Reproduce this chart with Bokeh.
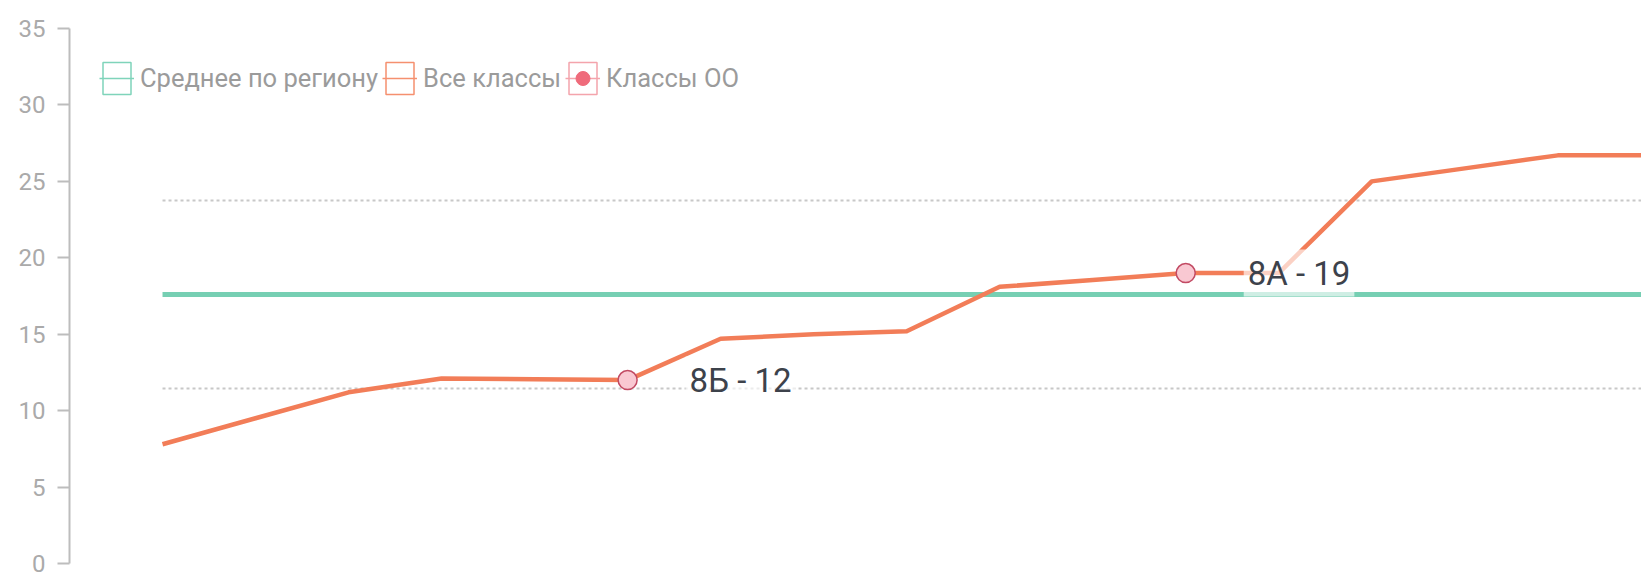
import math
from bokeh.plotting import figure
from bokeh.models import Range1d, Legend, LegendItem
from bokeh.embed import file_html
from bokeh.resources import INLINE
from bokeh.core.properties import value

# ---- data ----
class_index = list(range(17))
class_scores = [7.8, 9.5, 11.2, 12.1, 12.05, 12.0, 14.7, 15.0, 15.2, 18.1,
                18.55, 19.0, 19.0, 25.0, 25.85, 26.7, 26.7]
region_average = 17.6
band_low = 11.45
band_high = 23.75
school_classes = ["8Б", "8А"]
school_class_index = [5, 11]
school_class_scores = [12, 19]
y_ticks = [0, 5, 10, 15, 20, 25, 30, 35]
legend_labels = ["Среднее по региону", "Все классы", "Классы ОО"]

# ---- styles ----
GREEN = "#76cfb3"
GREEN_ICON = "#7fd4ba"
ORANGE = "#f27d58"
ORANGE_ICON = "#f5906f"
PINK_ICON = "#f4a4ac"
PINK_DOT = "#ef6b7b"
FONT = "Roboto"

p = figure(width=1641, height=574, output_backend="svg", toolbar_location=None,
           x_range=Range1d(-1, 15.9), y_range=Range1d(0, 35),
           x_axis_location=None,
           min_border_left=69, min_border_right=0,
           min_border_top=28, min_border_bottom=11)
p.xgrid.visible = False
p.ygrid.visible = False
p.outline_line_color = None
p.background_fill_color = "white"
p.border_fill_color = "white"

xs_span = [class_index[0], class_index[-1]]

# dotted band lines
for lvl in (band_low, band_high):
    p.line(xs_span, [lvl, lvl], line_color="#c8c8c8", line_width=2, line_dash="3 3")

# region average
p.line(xs_span, [region_average, region_average], line_color=GREEN, line_width=5)

# all classes
p.line(class_index, class_scores, line_color=ORANGE, line_width=4.5, line_join="round")

# school classes
p.scatter(school_class_index, school_class_scores, size=19, marker="circle",
          fill_color="#f9c8d2", line_color="#c24a63", line_width=1.5)

labels = [f"{c} - {s}" for c, s in zip(school_classes, school_class_scores)]
p.text(school_class_index, school_class_scores, text=labels, x_offset=58,
       text_baseline="middle", text_align="left",
       text_font=value(FONT), text_font_size="33px", text_color="#3d424b",
       background_fill_color="white", background_fill_alpha=0.65, padding=4)

# ---- legend icon renderers (no data drawn) ----
nan = [math.nan]
g_rect = p.rect(nan, nan, width=1, height=1, fill_color=None, line_color=GREEN_ICON, line_width=1.5)
g_line = p.line(nan, nan, line_color=GREEN_ICON, line_width=1.5)
o_rect = p.rect(nan, nan, width=1, height=1, fill_color=None, line_color=ORANGE_ICON, line_width=1.5)
o_line = p.line(nan, nan, line_color=ORANGE_ICON, line_width=1.5)
k_rect = p.rect(nan, nan, width=1, height=1, fill_color=None, line_color=PINK_ICON, line_width=1.5)
k_line = p.line(nan, nan, line_color=PINK_ICON, line_width=1.5)
k_dot = p.scatter(nan, nan, marker="circle", size=14, fill_color=PINK_DOT, line_color=PINK_DOT)

legend = Legend(items=[
    LegendItem(label=legend_labels[0], renderers=[g_rect, g_line]),
    LegendItem(label=legend_labels[1], renderers=[o_rect, o_line]),
    LegendItem(label=legend_labels[2], renderers=[k_rect, k_line, k_dot]),
], location="top_left", orientation="horizontal",
    glyph_width=35, glyph_height=40, label_standoff=6, spacing=4,
    padding=0, margin=30, border_line_color=None, background_fill_alpha=0,
    label_text_font=FONT, label_text_font_size="25.5px", label_text_color="#9b9b9b")
p.add_layout(legend)

# ---- y axis ----
ax = p.yaxis[0]
ax.ticker = y_ticks
ax.axis_line_color = "#bdbdbd"
ax.axis_line_width = 2
ax.major_tick_line_color = "#bdbdbd"
ax.major_tick_line_width = 2
ax.major_tick_out = 12
ax.major_tick_in = 0
ax.minor_tick_out = 0
ax.minor_tick_in = 0
ax.major_label_standoff = 12
ax.major_label_text_font = FONT
ax.major_label_text_font_size = "24px"
ax.major_label_text_color = "#aaaaaa"

open("out.html", "w").write(file_html(p, INLINE))
